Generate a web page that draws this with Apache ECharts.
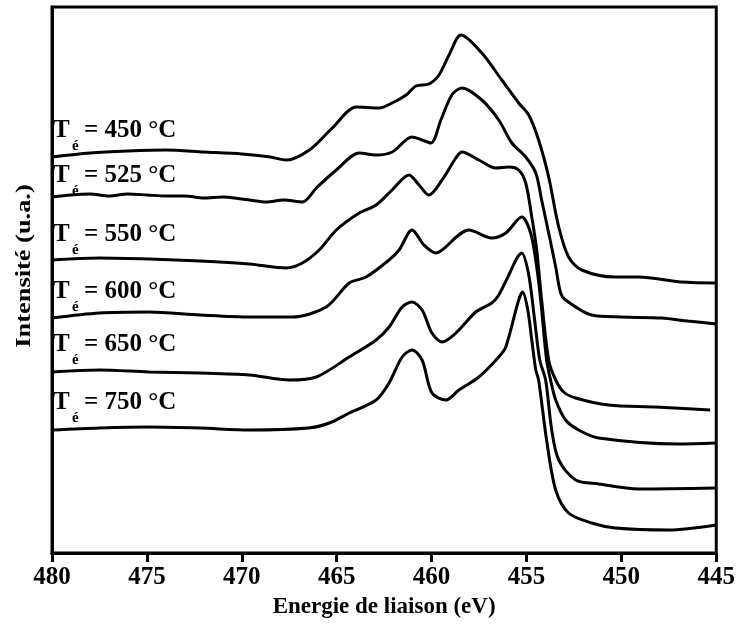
<!DOCTYPE html>
<html>
<head>
<meta charset="utf-8">
<script src="https://cdn.jsdelivr.net/npm/echarts@6/dist/echarts.min.js"></script>
<style>html,body{margin:0;padding:0;background:#fff}#c{width:738px;height:630px}</style>
</head>
<body>
<div id="c"></div>
<script>
// Annealing temperatures (°C)
const temps = ['450', '525', '550', '600', '650', '750'];

// [binding energy (eV), intensity (a.u., stacked offset as drawn)]
const s450 = [[480,396],[478,400],[476,402],[474,403],[472,401],[470,399],[468.5,396],[467.65,393],[466.44,403],[465.23,425],[463.97,446],[462.76,445],[462.08,450],[461.34,458],[460.82,467],[460.14,469],[459.61,478],[459.08,498],[458.45,518],[457.35,500],[456.3,473],[455.41,450],[454.88,438],[454.36,413],[453.83,376],[453.3,326],[452.78,296],[452.09,283],[450.31,276],[449.1,276],[446.84,271],[445,270]];
const s525 = [[480,356],[479,358],[478,359],[477,357],[476,359],[475,358],[474,357],[473,357],[472,355],[471,356],[470,354],[469.6,353],[468.7,351],[467.8,353],[466.81,351],[466.07,365],[465.02,383],[463.81,400],[462.92,398],[462.08,401],[461.03,416],[460.5,413],[460.03,410],[459.51,433],[458.93,458],[458.4,465],[457.35,453],[456.46,433],[455.77,410],[455.04,396],[454.51,380],[454.2,353],[453.83,320],[453.46,286],[453.2,260],[452.94,253],[451.57,238],[450,236],[447.89,235],[446.5,232],[445,229]];
const s550 = [[480,293],[477.5,295],[474.9,294],[472.2,292],[469.6,289],[467.65,285],[466.81,290],[465.92,303],[465.02,323],[463.81,340],[462.92,348],[462.08,363],[461.19,378],[460.66,368],[460.14,358],[459.45,373],[458.72,395],[458.4,401],[457.51,393],[456.62,385],[455.93,386],[455.41,383],[455.04,370],[454.72,336],[454.46,303],[454.2,253],[453.83,193],[453.46,173],[453.04,161],[452.41,155],[450.68,148],[448.21,146],[445.32,143]];
const s600 = [[480,235],[477.5,240],[474.9,241],[472.2,238],[469.6,236],[467.34,236],[465.55,246],[464.34,270],[463.45,276],[462.24,293],[461.71,303],[461.03,323],[460.4,308],[459.77,300],[459.45,303],[458.03,323],[456.83,315],[456.09,320],[455.25,336],[454.78,320],[454.46,286],[454.25,253],[453.94,193],[453.73,173],[453.46,153],[452.94,133],[452.25,123],[451.2,115],[447,109],[445,110]];
const s650 = [[480,181],[477.5,183],[474.9,181],[472.2,180],[469.6,178],[467.5,173],[466.07,176],[464.34,196],[462.92,213],[462.24,226],[461.55,246],[461.03,251],[460.5,243],[459.98,220],[459.45,211],[458.72,220],[457.67,241],[456.83,250],[456.46,258],[455.93,278],[455.5,295],[455.25,300],[454.88,278],[454.57,233],[454.3,193],[453.99,173],[453.67,123],[453.3,93],[452.41,73],[451.2,69],[449.1,64],[445,65]];
const s750 = [[480,123],[477.5,125],[474.9,126],[472.2,125],[469.6,123],[466.5,125],[465.39,130],[464.34,140],[462.92,153],[462.24,170],[461.55,196],[461.03,203],[460.5,193],[459.98,160],[459.24,153],[458.56,163],[457.51,176],[456.46,196],[456.09,206],[455.41,253],[455.2,261],[454.93,243],[454.72,213],[454.51,183],[454.36,173],[453.94,113],[453.46,63],[452.78,40],[451.57,30],[450.31,25],[447.52,23],[445,28]];

const seriesData = [s450, s525, s550, s600, s650, s750];

// label vertical placement (layout only)
const labelY = [131, 176, 235, 292, 345, 403];

const FONT = '"Liberation Serif", "Times New Roman", serif';

const chart = echarts.init(document.getElementById('c'), null, {renderer: 'canvas'});

const graphics = temps.map((t, i) => ({
  type: 'group',
  x: 53,
  y: labelY[i],
  children: [
    {type: 'text', x: 0, y: 0, style: {text: 'T', font: 'bold 25px ' + FONT, fill: '#000', textVerticalAlign: 'middle', textAlign: 'left'}},
    {type: 'text', x: 19, y: 15, style: {text: 'é', font: 'bold 15px ' + FONT, fill: '#000', textVerticalAlign: 'middle', textAlign: 'left'}},
    {type: 'text', x: 31, y: 0, style: {text: '= ' + t + ' °C', font: 'bold 25px ' + FONT, fill: '#000', textVerticalAlign: 'middle', textAlign: 'left'}}
  ]
}));
graphics.push({
  type: 'text', x: 24, y: 266, rotation: Math.PI / 2, scaleX: 1.2,
  style: {text: 'Intensité (u.a.)', font: 'bold 22px ' + FONT, fill: '#000', textAlign: 'center', textVerticalAlign: 'middle'}
});

chart.setOption({
  animation: false,
  backgroundColor: '#fff',
  grid: {left: 52, right: 20, top: 7, bottom: 77, show: true, borderColor: '#000', borderWidth: 3, backgroundColor: 'transparent'},
  xAxis: {
    type: 'value', min: 445, max: 480, interval: 5, inverse: true,
    name: 'Energie de liaison (eV)', nameLocation: 'middle', nameGap: 43,
    nameTextStyle: {fontFamily: FONT, fontWeight: 'bold', fontSize: 23, color: '#000'},
    axisLine: {show: true, lineStyle: {color: '#000', width: 3}},
    axisTick: {show: true, inside: false, length: 9, lineStyle: {color: '#000', width: 3}},
    axisLabel: {fontFamily: FONT, fontWeight: 'bold', fontSize: 25, color: '#000', margin: 12},
    splitLine: {show: false}
  },
  yAxis: {
    type: 'value', min: 0, max: 546,
    axisLine: {show: true, lineStyle: {color: '#000', width: 3}},
    axisTick: {show: false}, axisLabel: {show: false}, splitLine: {show: false}
  },
  series: seriesData.map((d, i) => ({
    type: 'line', name: temps[i] + ' °C', data: d, showSymbol: false, smooth: 0.3,
    lineStyle: {color: '#000', width: 3}, itemStyle: {color: '#000'}
  })),
  graphic: graphics
});
</script>
</body>
</html>
